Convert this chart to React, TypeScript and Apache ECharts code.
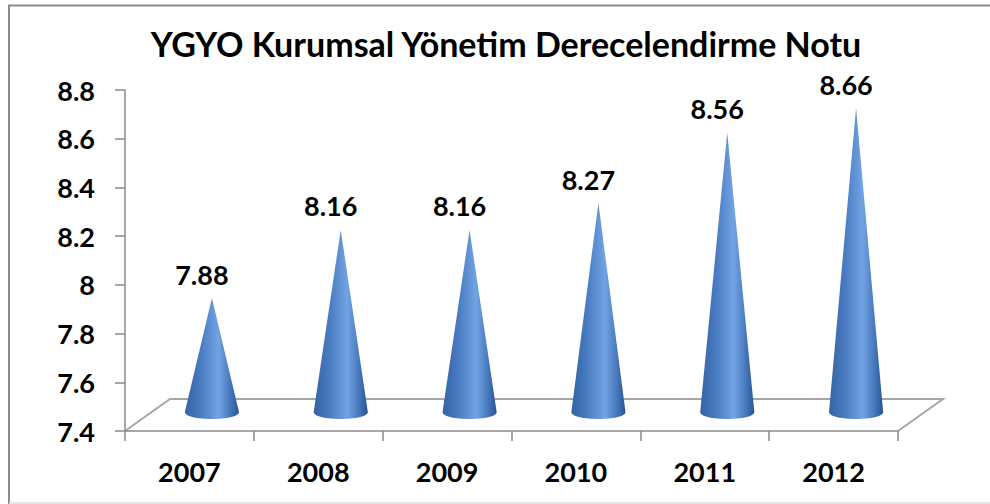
import React, { useEffect, useRef } from "react";
import * as echarts from "echarts";

const title = "YGYO Kurumsal Yönetim Derecelendirme Notu";
const categories = ["2007", "2008", "2009", "2010", "2011", "2012"];
const values = [7.88, 8.16, 8.16, 8.27, 8.56, 8.66];
const yMin = 7.4;
const yMax = 8.8;
const yStep = 0.2;

const FONT = "Lato";
const DEPTH_X = 22.5;
const DEPTH_Y = -16;

export default function App() {
  const ref = useRef<HTMLDivElement>(null);
  useEffect(() => {
    document.body.style.margin = "0";
    const chart = echarts.init(ref.current!, null, { renderer: "svg" });
    const gridL = 125, gridR = 92, gridT = 90, gridB = 73;
    const x0 = gridL, x1 = 990 - gridR, yb = 504 - gridB;
    chart.setOption({
      animation: false,
      backgroundColor: "#ffffff",
      title: {
        text: title,
        left: 506,
        textAlign: "center",
        top: 26,
        padding: 0,
        textStyle: { fontFamily: FONT, fontWeight: "bold", fontSize: 34, lineHeight: 34, color: "#000" },
      },
      grid: { left: gridL, right: gridR, top: gridT, bottom: gridB },
      xAxis: {
        type: "category",
        data: categories,
        boundaryGap: true,
        axisLine: { lineStyle: { color: "#8a8a8a", width: 1.5 } },
        axisTick: { show: true, length: 10, lineStyle: { color: "#8a8a8a", width: 1.5 } },
        axisLabel: { fontFamily: FONT, fontWeight: "bold", fontSize: 27, color: "#000", margin: 27 },
      },
      yAxis: {
        type: "value",
        min: yMin,
        max: yMax,
        interval: yStep,
        axisLine: { show: true, lineStyle: { color: "#8a8a8a", width: 1.5 } },
        axisTick: { show: true, length: 10, lineStyle: { color: "#8a8a8a", width: 1.5 } },
        splitLine: { show: false },
        axisLabel: {
          fontFamily: FONT,
          fontWeight: "bold",
          fontSize: 27,
          color: "#000",
          margin: 30,
          formatter: (v: number) => String(Math.round(v * 10) / 10),
        },
      },
      graphic: [
        {
          type: "polyline",
          shape: { points: [[9, 504], [9, 5.5], [990, 5.5]] },
          style: { fill: "none", stroke: "#8c8c8c", lineWidth: 2 },
          z: -1,
        },
        {
          type: "line",
          shape: { x1: 9, y1: 503, x2: 990, y2: 503 },
          style: { stroke: "#dcdcdc", lineWidth: 1.5 },
          z: -1,
        },
        {
          type: "polyline",
          shape: {
            points: [
              [x0, yb],
              [x0 + DEPTH_X * 2, yb + DEPTH_Y * 2],
              [x1 + DEPTH_X * 2, yb + DEPTH_Y * 2],
              [x1, yb],
            ],
          },
          style: { fill: "none", stroke: "#a6a6a6", lineWidth: 2 },
          z: 0,
        },
      ],
      series: [
        {
          type: "custom",
          data: values.map((v, i) => [i, v]),
          z: 5,
          renderItem: (params: any, api: any) => {
            const idx = api.value(0);
            const val = api.value(1);
            const tip = api.coord([idx, val]);
            const base = api.coord([idx, yMin]);
            const bw = api.size([1, 0])[0];
            const rx = bw * 0.21;
            const ry = 7;
            const cx = tip[0] + DEPTH_X;
            const ty = tip[1] + DEPTH_Y;
            const by = base[1] + DEPTH_Y - 3;
            const d =
              `M ${cx} ${ty} L ${cx + rx} ${by} ` +
              `C ${cx + rx} ${by + ry * 1.33} ${cx - rx} ${by + ry * 1.33} ${cx - rx} ${by} Z`;
            return {
              type: "group",
              children: [
                {
                  type: "path",
                  shape: { pathData: d },
                  style: {
                    fill: new echarts.graphic.LinearGradient(0, 0, 1, 0, [
                      { offset: 0, color: "#3563a3" },
                      { offset: 0.3, color: "#4a7cc2" },
                      { offset: 0.62, color: "#72a3e3" },
                      { offset: 0.85, color: "#4476ba" },
                      { offset: 1, color: "#2a5291" },
                    ]),
                  },
                },
                {
                  type: "text",
                  style: {
                    text: String(val),
                    x: cx - 10,
                    y: ty - 24,
                    align: "center",
                    verticalAlign: "middle",
                    fontFamily: FONT,
                    fontWeight: "bold",
                    fontSize: 27,
                    lineHeight: 27,
                    fill: "#000",
                  },
                },
              ],
            };
          },
        },
      ],
    });
    return () => chart.dispose();
  }, []);
  return <div ref={ref} style={{ width: 990, height: 504 }} />;
}
